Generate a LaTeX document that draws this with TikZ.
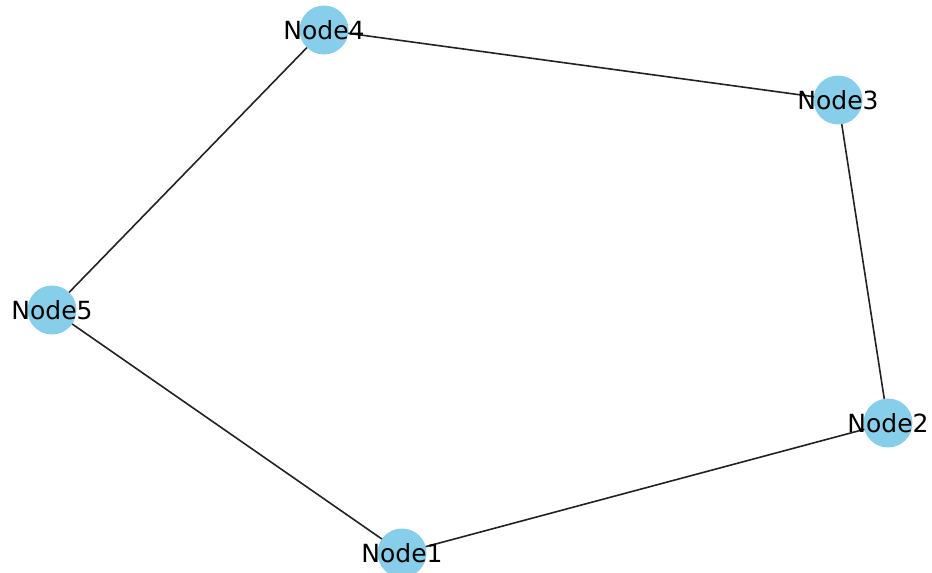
\documentclass[tikz,border=0pt]{standalone}
\usepackage{fontspec}
\setmainfont{DejaVu Sans}
\definecolor{skyblue}{RGB}{135,206,235}
\definecolor{edgegray}{RGB}{34,34,34}
\tikzset{
  vert/.style={circle, fill=skyblue, minimum size=49pt, inner sep=0pt,
    label={[font=\fontsize{25}{25}\selectfont, text=black]center:#1}},
  edge/.style={draw=edgegray, line width=1.6pt}
}
\begin{document}
\begin{tikzpicture}[x=1pt,y=-1pt]
\useasboundingbox (0,0) rectangle (932,573);
\coordinate (p4) at (324,30);
\coordinate (p3) at (838,100);
\coordinate (p5) at (52,310);
\coordinate (p2) at (888,423);
\coordinate (p1) at (402,553);
\draw[edge] (p4) -- (p3);
\draw[edge] (p3) -- (p2);
\draw[edge] (p2) -- (p1);
\draw[edge] (p1) -- (p5);
\draw[edge] (p5) -- (p4);
\node[vert=Node4] (n4) at (p4) {};
\node[vert=Node3] (n3) at (p3) {};
\node[vert=Node5] (n5) at (p5) {};
\node[vert=Node2] (n2) at (p2) {};
\node[vert=Node1] (n1) at (p1) {};
\end{tikzpicture}
\end{document}
